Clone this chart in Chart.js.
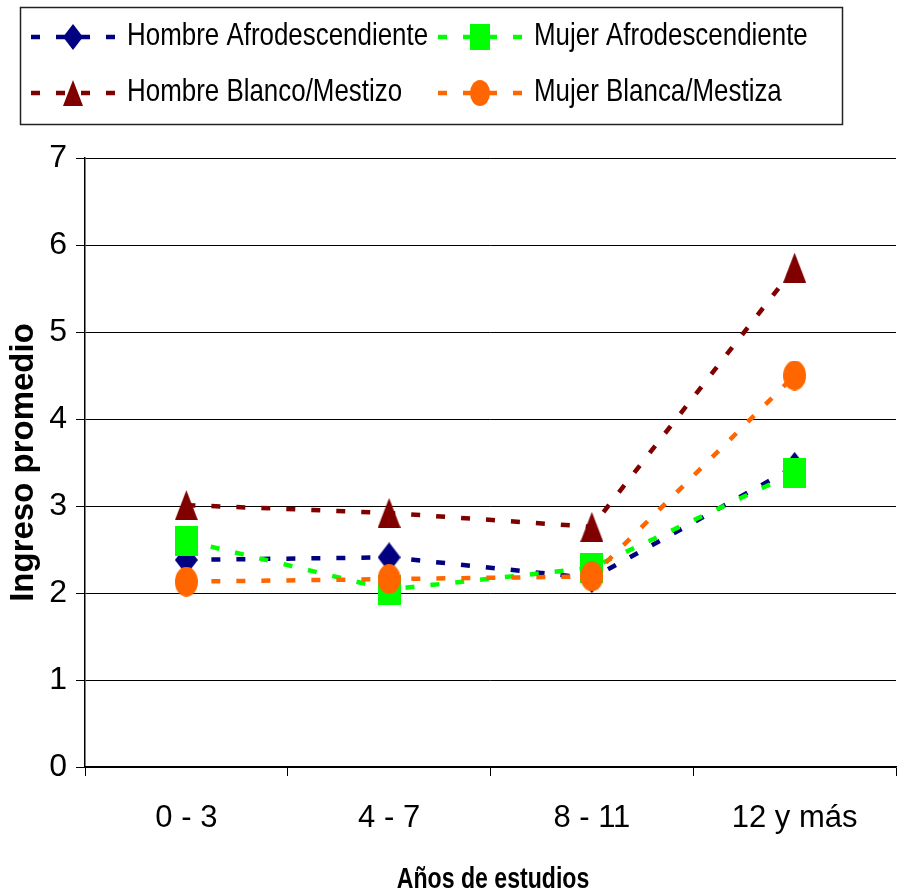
<!DOCTYPE html>
<html>
<head>
<meta charset="utf-8">
<script src="https://cdn.jsdelivr.net/npm/chart.js@4/dist/chart.umd.min.js"></script>
<style>
  html, body { margin: 0; padding: 0; background: #fff; }
  #wrap { width: 897px; height: 895px; }
</style>
</head>
<body>
<div id="wrap"><canvas id="c" width="897" height="895"></canvas></div>
<script>
// ---- data ----
const categories = ['0 - 3', '4 - 7', '8 - 11', '12 y más'];
const hombreAfro = [2.38, 2.41, 2.17, 3.45];
const mujerAfro = [2.60, 2.04, 2.29, 3.38];
const hombreBlanco = [3.01, 2.92, 2.76, 5.74];
const mujerBlanca = [2.13, 2.16, 2.19, 4.50];
const seriesNames = ['Hombre Afrodescendiente', 'Mujer Afrodescendiente', 'Hombre Blanco/Mestizo', 'Mujer Blanca/Mestiza'];
const yMin = 0, yMax = 7, yStep = 1;
const xTitle = 'Años de estudios';
const yTitle = 'Ingreso promedio';

const SANS = '"Liberation Sans", Arial, sans-serif';

// ---- marker images ----
function makeMarker(shape, color, w, h) {
  const c = document.createElement('canvas');
  c.width = w; c.height = h;
  const g = c.getContext('2d');
  g.fillStyle = color;
  g.beginPath();
  if (shape === 'diamond') {
    g.moveTo(w / 2, 0); g.lineTo(w, h / 2); g.lineTo(w / 2, h); g.lineTo(0, h / 2); g.closePath();
  } else if (shape === 'square') {
    g.rect(0, 0, w, h);
  } else if (shape === 'triangle') {
    g.moveTo(w / 2, 0); g.lineTo(w, h); g.lineTo(0, h); g.closePath();
  } else {
    g.ellipse(w / 2, h / 2, w / 2, h / 2, 0, 0, Math.PI * 2);
  }
  g.fill();
  return c;
}

const colors = ['#000080', '#00FF00', '#800000', '#FF6600'];
const shapes = ['diamond', 'square', 'triangle', 'circle'];
const markers = shapes.map((s, i) => makeMarker(s, colors[i], 23, 30));
const legendMarkers = shapes.map((s, i) => makeMarker(s, colors[i], 20, 26));
const seriesData = [hombreAfro, mujerAfro, hombreBlanco, mujerBlanca];
const drawOrder = [4, 3, 2, 1];

const datasets = seriesData.map((d, i) => ({
  label: seriesNames[i],
  data: d,
  borderColor: colors[i],
  backgroundColor: colors[i],
  borderWidth: 4.5,
  borderDash: [9, 16],
  pointStyle: markers[i],
  pointRadius: 12,
  pointHoverRadius: 12,
  tension: 0,
  fill: false,
  order: drawOrder[i]
}));

// condensed text helper (the reference uses tall, narrow lettering)
function narrowText(ctx, text, x, y, font, sx, align) {
  ctx.save();
  ctx.font = font;
  ctx.textBaseline = 'alphabetic';
  ctx.textAlign = align || 'left';
  ctx.translate(x, y);
  ctx.scale(sx, 1);
  ctx.fillText(text, 0, 0);
  ctx.restore();
}

// ---- custom legend box + x title ----
const legendBox = {
  id: 'legendBox',
  afterDraw(chart) {
    const ctx = chart.ctx;
    ctx.save();
    ctx.strokeStyle = '#222';
    ctx.lineWidth = 1.5;
    ctx.strokeRect(20.5, 7.5, 822, 117);
    const cols = [31, 438];
    const rows = [37, 93];
    const textBase = [45, 101];
    ctx.fillStyle = '#000';
    for (let i = 0; i < 4; i++) {
      const col = i % 2, row = Math.floor(i / 2);
      const x0 = cols[col], y = rows[row];
      ctx.strokeStyle = colors[i];
      ctx.lineWidth = 4.5;
      ctx.setLineDash([9, 16]);
      ctx.beginPath();
      ctx.moveTo(x0, y);
      ctx.lineTo(x0 + 85, y);
      ctx.stroke();
      ctx.setLineDash([]);
      const m = legendMarkers[i];
      ctx.drawImage(m, x0 + 42 - m.width / 2, y - m.height / 2);
      narrowText(ctx, seriesNames[i], x0 + 96, textBase[row], '32px ' + SANS, 0.81);
    }
    // x axis title
    narrowText(ctx, xTitle, 493, 888, 'bold 30px ' + SANS, 0.77, 'center');
    ctx.restore();
  }
};

new Chart(document.getElementById('c'), {
  type: 'line',
  data: { labels: categories, datasets },
  plugins: [legendBox],
  options: {
    responsive: false,
    animation: false,
    devicePixelRatio: 1,
    layout: { autoPadding: false, padding: { top: 158, left: 0, right: 1, bottom: 0 } },
    plugins: {
      legend: { display: false },
      tooltip: { enabled: false },
      title: { display: false }
    },
    scales: {
      x: {
        offset: true,
        grid: {
          display: true,
          offset: true,
          drawOnChartArea: false,
          drawTicks: true,
          tickLength: 9,
          color: '#000',
          lineWidth: 1
        },
        border: { display: true, color: '#000', width: 1.5 },
        ticks: {
          color: '#000',
          font: { family: SANS, size: 31 },
          padding: 24,
          maxRotation: 0,
          autoSkip: false
        },
        title: { display: false },
        afterFit(scale) { scale.height = 128; scale.paddingRight = 0; scale.paddingLeft = 0; }
      },
      y: {
        min: yMin,
        max: yMax,
        ticks: {
          stepSize: yStep,
          color: '#000',
          font: { family: SANS, size: 32 },
          padding: 9
        },
        grid: {
          color: '#000',
          lineWidth: 1,
          tickLength: 9,
          drawTicks: true
        },
        border: { display: true, color: '#000', width: 1.5 },
        title: {
          display: true,
          text: yTitle,
          color: '#000',
          font: { family: SANS, size: 33, weight: 'bold' },
          padding: { top: 4, bottom: 0 }
        },
        afterFit(scale) { scale.width = 85; scale.paddingTop = 0; scale.paddingBottom = 0; }
      }
    }
  }
});
</script>
</body>
</html>
